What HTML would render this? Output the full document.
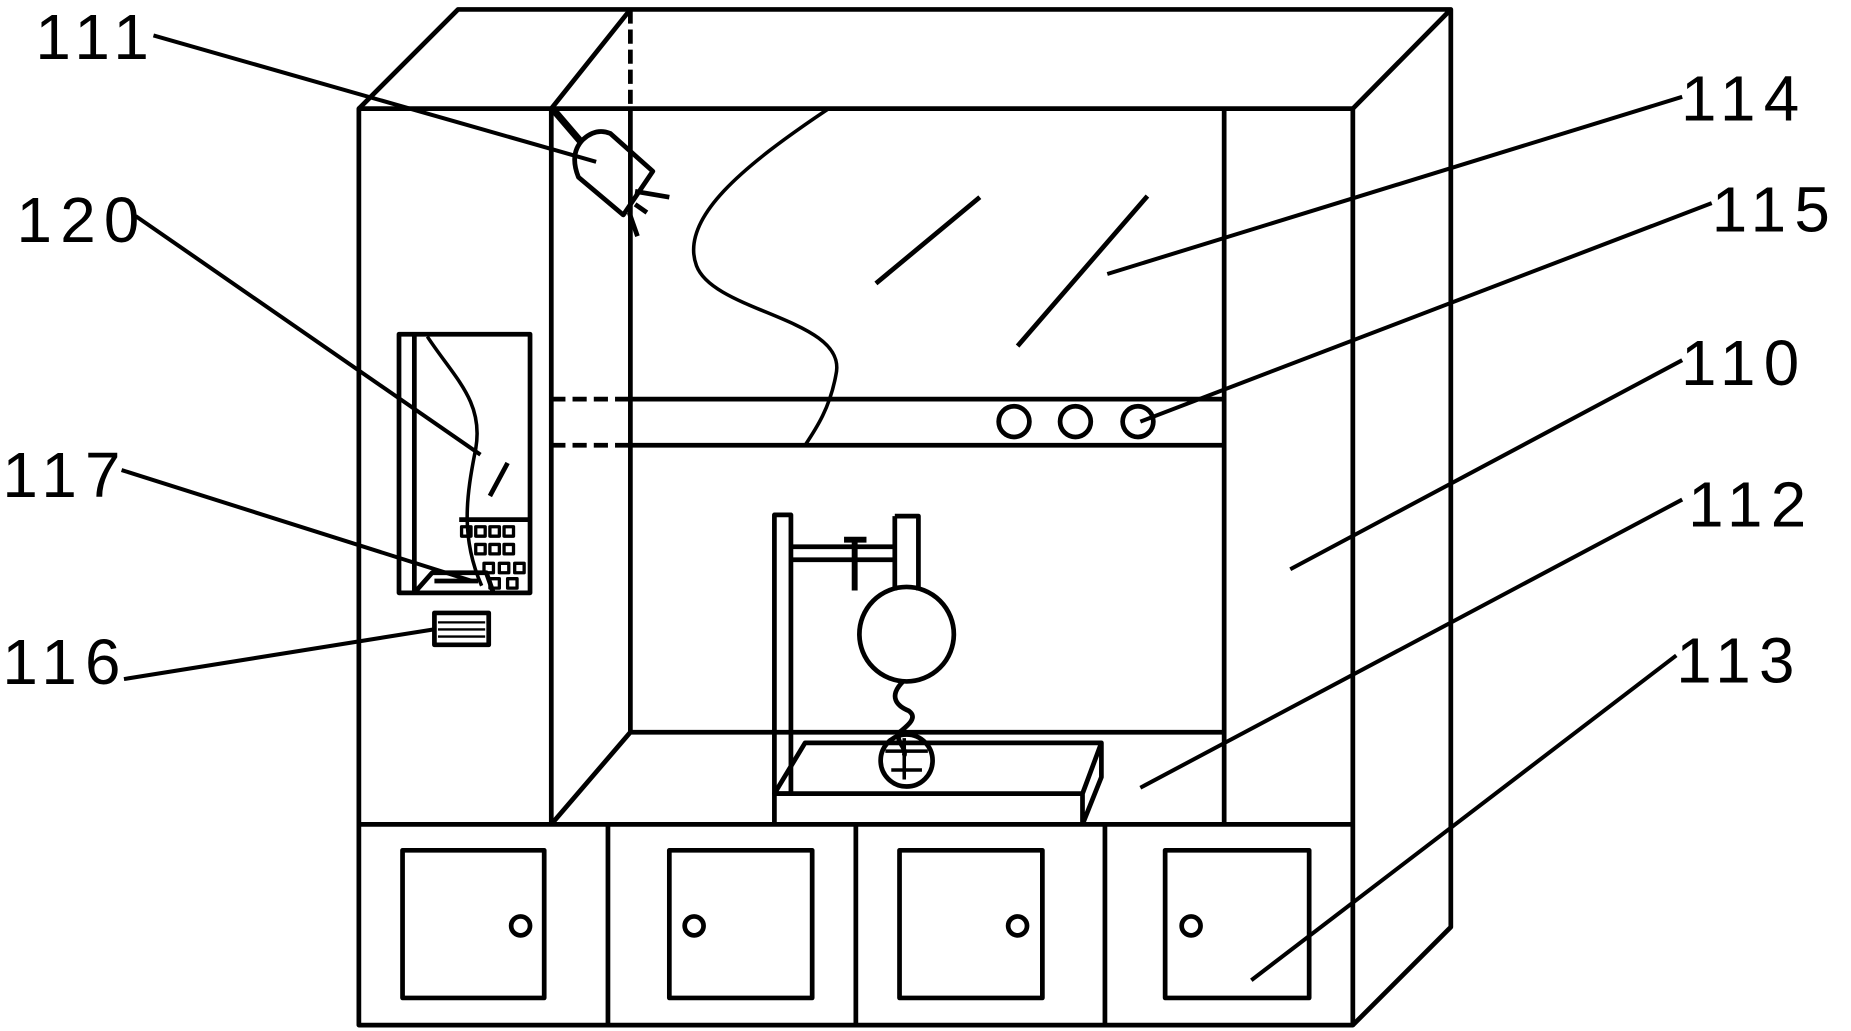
<!DOCTYPE html>
<html><head><meta charset="utf-8"><style>
html,body{margin:0;padding:0;background:#fff;}
svg{display:block;}
text{font-family:"Liberation Sans",sans-serif;font-size:54px;letter-spacing:7px;fill:#000;}
</style></head><body>
<svg width="1851" height="1031" viewBox="0 0 1568 873" preserveAspectRatio="none" xmlns="http://www.w3.org/2000/svg">
<g fill="none" stroke="#000" stroke-width="4" stroke-linejoin="round">
<rect x="304" y="92" width="842" height="776"/>
<path d="M304,92 L388,8 L1229,8 L1229,785 L1146,868 M1146,92 L1229,8"/>
<path d="M467,92 L467,698 M467,92 L534,8"/>
<path d="M534,8 L534,92" stroke-dasharray="12,5"/>
<path d="M534,92 L534,620 L1037,620 M534,620 L467,698"/>
<path d="M1037,92 L1037,698"/>
<path d="M304,698 L1146,698"/>
<path d="M467,338 L534,338 M467,377 L534,377" stroke-dasharray="12,6"/>
<path d="M534,338 L1037,338 M534,377 L1037,377"/>
<circle cx="859" cy="357" r="13"/><circle cx="911" cy="357" r="13"/><circle cx="964" cy="357" r="13"/>
<path d="M702,92 C630,140 575,185 590,225 C605,265 720,270 708,318 C703,345 692,362 682,377" stroke-width="3"/>
<path d="M742,240 L830,167 M862,293 L972,166"/>
<path d="M468,92 L492,120" stroke-width="6"/>
<path d="M494,118 Q505,108 517,113 L553,145 L528,182 L490,150 Q482,130 494,118 Z"/>
<path d="M538,162 L567,167 M538,173 L548,180 M533,180 L540,200"/>
<path d="M515,698 L515,868 M725,698 L725,868 M936,698 L936,868"/>
<rect x="341" y="720" width="120" height="125"/>
<rect x="567" y="720" width="121" height="125"/>
<rect x="762" y="720" width="121" height="125"/>
<rect x="987" y="720" width="122" height="125"/>
<circle cx="441" cy="784" r="8"/><circle cx="588" cy="784" r="8"/><circle cx="862" cy="784" r="8"/><circle cx="1009" cy="784" r="8"/>
<rect x="338" y="283" width="111" height="219"/>
<path d="M351,283 L351,502 M389,440 L449,440"/>
<path d="M362,285 C385,320 410,340 403,380 C395,420 390,455 408,496" stroke-width="3"/>
<path d="M415,420 L430,392"/>
<path d="M351,502 L366,485 L412,485 L418,502 M368,492 L405,492"/>
<g stroke-width="2.8">
<rect x="391" y="446" width="8" height="8"/><rect x="403" y="446" width="8" height="8"/><rect x="415" y="446" width="8" height="8"/><rect x="427" y="446" width="8" height="8"/>
<rect x="403" y="461" width="8" height="8"/><rect x="415" y="461" width="8" height="8"/><rect x="427" y="461" width="8" height="8"/>
<rect x="410" y="477" width="8" height="8"/><rect x="423" y="477" width="8" height="8"/><rect x="436" y="477" width="8" height="8"/>
<rect x="415" y="490" width="8" height="8"/><rect x="430" y="490" width="8" height="8"/>
</g>
<rect x="368" y="519" width="46" height="27"/>
<path d="M371,527 L411,527 M371,533 L411,533 M371,539 L411,539" stroke-width="2"/>
<rect x="656" y="436" width="14" height="236"/>
<path d="M670,463 L758,463 M670,474 L758,474"/>
<path d="M715,457 L734,457 M724,457 L724,500" stroke-width="5"/>
<path d="M758,437 L778,437 L778,500 M758,437 L758,500"/>
<circle cx="768" cy="537" r="40"/>
<path d="M765,577 C752,590 760,598 770,602 C778,608 768,615 762,620 C758,628 768,632 766,640" stroke-width="4"/>
<circle cx="768" cy="644" r="22"/>
<path d="M750,636 L786,636 M755,652 L781,652 M766,625 L766,660" stroke-width="3"/>
<path d="M656,698 L656,672 L917,672 L917,698 M656,672 L682,629 L933,629 L933,658 L917,698 M917,672 L933,629"/>
<g stroke-width="3.4">
<path d="M130,30 L505,137"/>
<path d="M115,183 L407,385"/>
<path d="M103,398 L400,492"/>
<path d="M105,575 L367,533"/>
<path d="M1425,82 L938,232"/>
<path d="M1450,172 L966,357"/>
<path d="M1425,305 L1093,482"/>
<path d="M1425,423 L966,667"/>
<path d="M1420,555 L1060,830"/>
</g>
</g>
<text x="30" y="50">111</text>
<text x="14" y="205">120</text>
<text x="2" y="421">117</text>
<text x="2" y="579">116</text>
<text x="1424" y="102">114</text>
<text x="1450" y="196">115</text>
<text x="1424" y="326">110</text>
<text x="1430" y="446">112</text>
<text x="1420" y="578">113</text>
</svg>
</body></html>
